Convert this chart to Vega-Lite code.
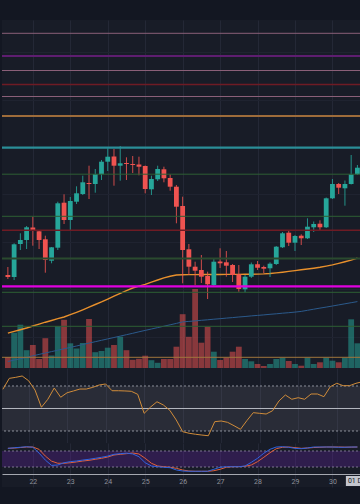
{
"$schema":"https://vega.github.io/schema/vega-lite/v6.json",
"background":"#131722",
"padding":{"top":20,"bottom":17,"left":0,"right":0},
"spacing":0,
"bounds":"flush",
"config":{"view":{"stroke":null,"fill":"#181c27"},"font":"Roboto"},
"datasets":{
"bars":[
{"t":"2023-11-21T08:00Z","o":35860,"h":36020,"l":35780,"c":35820,"v":550,"ema":34698,"ma":34130,"rsi":67.1,"k":90,"d":90},
{"t":"2023-11-21T12:00Z","o":35820,"h":36494,"l":35760,"c":36474,"v":1765,"ema":34732,"ma":34158,"rsi":76.8,"k":92,"d":91},
{"t":"2023-11-21T16:00Z","o":36480,"h":36694,"l":36360,"c":36560,"v":2165,"ema":34766,"ma":34186,"rsi":77.7,"k":94,"d":93},
{"t":"2023-11-21T20:00Z","o":36560,"h":36840,"l":36380,"c":36814,"v":890,"ema":34800,"ma":34214,"rsi":78.9,"k":96,"d":95},
{"t":"2023-11-22T00:00Z","o":36810,"h":37026,"l":36446,"c":36740,"v":1150,"ema":34840,"ma":34244,"rsi":74.7,"k":94,"d":95},
{"t":"2023-11-22T04:00Z","o":36734,"h":36740,"l":36380,"c":36560,"v":450,"ema":34878,"ma":34272,"rsi":66.4,"k":72,"d":86},
{"t":"2023-11-22T08:00Z","o":36574,"h":36646,"l":35906,"c":36160,"v":1490,"ema":34916,"ma":34300,"rsi":51.1,"k":46,"d":61},
{"t":"2023-11-22T12:00Z","o":36146,"h":36420,"l":36094,"c":36414,"v":625,"ema":34950,"ma":34328,"rsi":58.2,"k":26,"d":42},
{"t":"2023-11-22T16:00Z","o":36406,"h":37326,"l":36360,"c":37294,"v":2100,"ema":34986,"ma":34356,"rsi":68.2,"k":27.5,"d":34},
{"t":"2023-11-22T20:00Z","o":37306,"h":37474,"l":36880,"c":36960,"v":2410,"ema":35020,"ma":34384,"rsi":60,"k":36,"d":34},
{"t":"2023-11-23T00:00Z","o":36960,"h":37420,"l":36760,"c":37340,"v":1235,"ema":35066,"ma":34412,"rsi":64,"k":40,"d":36},
{"t":"2023-11-23T04:00Z","o":37326,"h":37634,"l":37280,"c":37494,"v":975,"ema":35114,"ma":34440,"rsi":65.6,"k":42.5,"d":39},
{"t":"2023-11-23T08:00Z","o":37480,"h":37846,"l":37460,"c":37714,"v":1250,"ema":35164,"ma":34470,"rsi":67.3,"k":46,"d":42.5},
{"t":"2023-11-23T12:00Z","o":37700,"h":38046,"l":37380,"c":37680,"v":2450,"ema":35216,"ma":34498,"rsi":67.3,"k":49,"d":45},
{"t":"2023-11-23T16:00Z","o":37680,"h":37980,"l":37506,"c":37880,"v":790,"ema":35270,"ma":34526,"rsi":68.8,"k":52.6,"d":49},
{"t":"2023-11-23T20:00Z","o":37874,"h":38160,"l":37760,"c":38126,"v":850,"ema":35322,"ma":34554,"rsi":70.9,"k":56.4,"d":52.6},
{"t":"2023-11-24T00:00Z","o":38126,"h":38394,"l":37940,"c":38226,"v":1015,"ema":35378,"ma":34582,"rsi":71.8,"k":61,"d":57.5},
{"t":"2023-11-24T04:00Z","o":38230,"h":38380,"l":37646,"c":38046,"v":1150,"ema":35436,"ma":34610,"rsi":65.8,"k":67.6,"d":65},
{"t":"2023-11-24T08:00Z","o":38046,"h":38440,"l":37746,"c":38094,"v":1565,"ema":35494,"ma":34638,"rsi":65.8,"k":70,"d":67.6},
{"t":"2023-11-24T12:00Z","o":38100,"h":38214,"l":37760,"c":38080,"v":890,"ema":35548,"ma":34666,"rsi":65.6,"k":72,"d":70},
{"t":"2023-11-24T16:00Z","o":38080,"h":38240,"l":37900,"c":38060,"v":410,"ema":35600,"ma":34694,"rsi":65.3,"k":69,"d":72.5},
{"t":"2023-11-24T20:00Z","o":38070,"h":38226,"l":37854,"c":38026,"v":460,"ema":35636,"ma":34724,"rsi":62.6,"k":58.6,"d":68.8},
{"t":"2023-11-25T00:00Z","o":38040,"h":38050,"l":37494,"c":37580,"v":615,"ema":35674,"ma":34752,"rsi":45.7,"k":36,"d":52.6},
{"t":"2023-11-25T04:00Z","o":37574,"h":37846,"l":37460,"c":37780,"v":390,"ema":35718,"ma":34780,"rsi":51.3,"k":23.8,"d":34},
{"t":"2023-11-25T08:00Z","o":37774,"h":38046,"l":37740,"c":37980,"v":260,"ema":35760,"ma":34808,"rsi":56,"k":21,"d":23.8},
{"t":"2023-11-25T12:00Z","o":37974,"h":38026,"l":37714,"c":37794,"v":450,"ema":35802,"ma":34836,"rsi":53.1,"k":19,"d":21},
{"t":"2023-11-25T16:00Z","o":37800,"h":37874,"l":37546,"c":37626,"v":450,"ema":35834,"ma":34864,"rsi":48.4,"k":17.4,"d":19},
{"t":"2023-11-25T20:00Z","o":37626,"h":37660,"l":36894,"c":37226,"v":1065,"ema":35860,"ma":34892,"rsi":39.8,"k":8.8,"d":15},
{"t":"2023-11-26T00:00Z","o":37240,"h":37426,"l":35694,"c":36360,"v":2690,"ema":35866,"ma":34922,"rsi":29.4,"k":5,"d":8.8},
{"t":"2023-11-26T04:00Z","o":36374,"h":36480,"l":35860,"c":36026,"v":1560,"ema":35868,"ma":34932,"rsi":28,"k":4,"d":5},
{"t":"2023-11-26T08:00Z","o":36026,"h":36126,"l":35660,"c":35946,"v":3950,"ema":35868,"ma":34942,"rsi":27.1,"k":4,"d":4},
{"t":"2023-11-26T12:00Z","o":35960,"h":36260,"l":35700,"c":35826,"v":1265,"ema":35870,"ma":34954,"rsi":26.4,"k":4,"d":4},
{"t":"2023-11-26T16:00Z","o":35840,"h":35926,"l":35380,"c":35674,"v":2060,"ema":35870,"ma":34964,"rsi":25.8,"k":4,"d":4},
{"t":"2023-11-26T20:00Z","o":35660,"h":36194,"l":35626,"c":36126,"v":815,"ema":35870,"ma":34976,"rsi":38.3,"k":11.4,"d":6},
{"t":"2023-11-27T00:00Z","o":36130,"h":36394,"l":36000,"c":36094,"v":400,"ema":35870,"ma":34986,"rsi":38.9,"k":19,"d":11.4},
{"t":"2023-11-27T04:00Z","o":36114,"h":36340,"l":35826,"c":36046,"v":515,"ema":35872,"ma":34998,"rsi":37.7,"k":21,"d":19},
{"t":"2023-11-27T08:00Z","o":36060,"h":36080,"l":35720,"c":35860,"v":815,"ema":35872,"ma":35008,"rsi":34.7,"k":21,"d":21},
{"t":"2023-11-27T12:00Z","o":35874,"h":36060,"l":35526,"c":35580,"v":1065,"ema":35872,"ma":35020,"rsi":31.5,"k":21,"d":21},
{"t":"2023-11-27T16:00Z","o":35574,"h":35860,"l":35514,"c":35826,"v":450,"ema":35874,"ma":35030,"rsi":39.2,"k":23.8,"d":22.6},
{"t":"2023-11-27T20:00Z","o":35826,"h":36110,"l":35800,"c":36074,"v":335,"ema":35876,"ma":35042,"rsi":46.3,"k":37.6,"d":27.5},
{"t":"2023-11-28T00:00Z","o":36074,"h":36140,"l":35960,"c":36006,"v":200,"ema":35878,"ma":35052,"rsi":45.7,"k":52.6,"d":40},
{"t":"2023-11-28T04:00Z","o":36020,"h":36046,"l":35894,"c":35986,"v":100,"ema":35882,"ma":35062,"rsi":45.1,"k":71.4,"d":56.4},
{"t":"2023-11-28T08:00Z","o":35994,"h":36114,"l":35820,"c":36086,"v":200,"ema":35890,"ma":35074,"rsi":48,"k":86.4,"d":73.6},
{"t":"2023-11-28T12:00Z","o":36080,"h":36440,"l":36060,"c":36426,"v":450,"ema":35902,"ma":35084,"rsi":56.7,"k":95,"d":88.6},
{"t":"2023-11-28T16:00Z","o":36414,"h":36720,"l":36400,"c":36694,"v":515,"ema":35916,"ma":35096,"rsi":62,"k":96,"d":94},
{"t":"2023-11-28T20:00Z","o":36706,"h":36740,"l":36440,"c":36506,"v":350,"ema":35932,"ma":35106,"rsi":58.2,"k":94,"d":95},
{"t":"2023-11-29T00:00Z","o":36506,"h":36660,"l":36340,"c":36640,"v":200,"ema":35948,"ma":35118,"rsi":59.6,"k":90,"d":92.6},
{"t":"2023-11-29T04:00Z","o":36646,"h":36674,"l":36460,"c":36594,"v":115,"ema":35964,"ma":35132,"rsi":58.2,"k":88.6,"d":90},
{"t":"2023-11-29T08:00Z","o":36594,"h":36994,"l":36580,"c":36826,"v":515,"ema":35980,"ma":35154,"rsi":62.9,"k":91.3,"d":91.3},
{"t":"2023-11-29T12:00Z","o":36814,"h":36930,"l":36720,"c":36880,"v":200,"ema":35996,"ma":35176,"rsi":62.9,"k":95,"d":93},
{"t":"2023-11-29T16:00Z","o":36886,"h":36954,"l":36740,"c":36814,"v":285,"ema":36014,"ma":35198,"rsi":60.5,"k":95,"d":94},
{"t":"2023-11-29T20:00Z","o":36814,"h":37410,"l":36800,"c":37394,"v":515,"ema":36038,"ma":35218,"rsi":69.4,"k":95,"d":95},
{"t":"2023-11-30T00:00Z","o":37394,"h":37780,"l":37380,"c":37680,"v":365,"ema":36062,"ma":35240,"rsi":72.4,"k":95,"d":95},
{"t":"2023-11-30T04:00Z","o":37680,"h":37700,"l":37480,"c":37606,"v":285,"ema":36092,"ma":35262,"rsi":70.3,"k":94,"d":95},
{"t":"2023-11-30T08:00Z","o":37594,"h":37750,"l":37246,"c":37680,"v":515,"ema":36124,"ma":35284,"rsi":70.3,"k":94,"d":94.5},
{"t":"2023-11-30T12:00Z","o":37680,"h":38260,"l":37670,"c":37874,"v":2435,"ema":36158,"ma":35306,"rsi":72.4,"k":95,"d":94.5},
{"t":"2023-11-30T16:00Z","o":37874,"h":38060,"l":37860,"c":38006,"v":1235,"ema":36196,"ma":35328,"rsi":73.8,"k":95,"d":95}
],
"levels":[
{"p":40694,"kind":"mauve"},{"p":40240,"kind":"purple"},{"p":39950,"kind":"mauve"},{"p":39670,"kind":"crimson"},{"p":39430,"kind":"mauve"},{"p":39040,"kind":"bronze"},{"p":38406,"kind":"teal"},{"p":37876,"kind":"green"},{"p":37034,"kind":"green"},{"p":36754,"kind":"crimson"},{"p":36190,"kind":"olive"},{"p":35634,"kind":"magenta"},{"p":35514,"kind":"green"},{"p":34834,"kind":"green"},{"p":34214,"kind":"amber"}
],
"stamp":[{"t":"2023-12-01T00:00Z","label":"01 Dec '23"}]
},
"vconcat":[
{
"width":360,"height":348,
"resolve":{"scale":{"y":"independent"}},
"layer":[
{"data":{"name":"bars"},"mark":{"type":"bar","width":5.8,"opacity":0.52,"clip":true},
"encoding":{
"x":{"field":"t","type":"temporal","scale":{"type":"utc","domain":[{"year":2023,"month":11,"date":21,"hours":7,"minutes":26,"seconds":22,"utc":true},{"year":2023,"month":11,"date":30,"hours":15,"minutes":44,"seconds":22,"utc":true}]},
"axis":{"values":[{"year":2023,"month":11,"date":22,"utc":true},{"year":2023,"month":11,"date":23,"utc":true},{"year":2023,"month":11,"date":24,"utc":true},{"year":2023,"month":11,"date":25,"utc":true},{"year":2023,"month":11,"date":26,"utc":true},{"year":2023,"month":11,"date":27,"utc":true},{"year":2023,"month":11,"date":28,"utc":true},{"year":2023,"month":11,"date":29,"utc":true},{"year":2023,"month":11,"date":30,"utc":true}],"grid":true,"gridColor":"#242836","labels":false,"ticks":false,"domain":true,"domainColor":"#a5a8b0","title":null}},
"y":{"field":"v","type":"quantitative","scale":{"domain":[0,17400],"nice":false,"zero":true},"axis":null},
"color":{"condition":{"test":"datum.c >= datum.o","value":"#26a69a"},"value":"#ef5350"}}},
{"data":{"name":"bars"},"mark":{"type":"line","color":"#2b5a8c","strokeWidth":1,"clip":true},
"encoding":{
"x":{"field":"t","type":"temporal","scale":{"type":"utc","domain":[{"year":2023,"month":11,"date":21,"hours":7,"minutes":26,"seconds":22,"utc":true},{"year":2023,"month":11,"date":30,"hours":15,"minutes":44,"seconds":22,"utc":true}]}},
"y":{"field":"ma","type":"quantitative","scale":{"domain":[34000,40960],"nice":false,"zero":false},"axis":{"values":[34630,35578,36526,37474,38422,39370,40318],"grid":true,"gridColor":"#1f2330","labels":false,"ticks":false,"domain":false,"title":null}}}},
{"data":{"name":"bars"},"mark":{"type":"line","color":"#e8902c","strokeWidth":1.4,"clip":true},
"encoding":{
"x":{"field":"t","type":"temporal","scale":{"type":"utc","domain":[{"year":2023,"month":11,"date":21,"hours":7,"minutes":26,"seconds":22,"utc":true},{"year":2023,"month":11,"date":30,"hours":15,"minutes":44,"seconds":22,"utc":true}]}},
"y":{"field":"ema","type":"quantitative","scale":{"domain":[34000,40960],"nice":false,"zero":false},"axis":null}}},
{"data":{"name":"bars"},"mark":{"type":"rule","strokeWidth":1,"opacity":0.85,"clip":true},
"encoding":{
"x":{"field":"t","type":"temporal","scale":{"type":"utc","domain":[{"year":2023,"month":11,"date":21,"hours":7,"minutes":26,"seconds":22,"utc":true},{"year":2023,"month":11,"date":30,"hours":15,"minutes":44,"seconds":22,"utc":true}]}},
"y":{"field":"l","type":"quantitative","scale":{"domain":[34000,40960],"nice":false,"zero":false},"axis":null},
"y2":{"field":"h"},
"color":{"condition":{"test":"datum.c >= datum.o","value":"#26a69a"},"value":"#ef5350"}}},
{"data":{"name":"bars"},"mark":{"type":"bar","width":4.8,"clip":true},
"encoding":{
"x":{"field":"t","type":"temporal","scale":{"type":"utc","domain":[{"year":2023,"month":11,"date":21,"hours":7,"minutes":26,"seconds":22,"utc":true},{"year":2023,"month":11,"date":30,"hours":15,"minutes":44,"seconds":22,"utc":true}]}},
"y":{"field":"o","type":"quantitative","scale":{"domain":[34000,40960],"nice":false,"zero":false},"axis":null},
"y2":{"field":"c"},
"color":{"condition":{"test":"datum.c >= datum.o","value":"#26a69a"},"value":"#ef5350"}}},
{"data":{"name":"levels"},"transform":[{"filter":{"field":"kind","oneOf":["mauve","green","amber"]}}],"mark":{"type":"rule","strokeWidth":1},
"encoding":{
"y":{"field":"p","type":"quantitative","scale":{"domain":[34000,40960],"nice":false,"zero":false},"axis":null},
"color":{"field":"kind","type":"nominal","scale":{"domain":["mauve","purple","crimson","bronze","teal","green","olive","magenta","amber"],"range":["#8a5f78","#5e1d70","#6e1b24","#9e6c3a","#2a8e98","#2d5f34","#2a4a2f","#e000e0","#a0763c"]},"legend":null}}},
{"data":{"name":"levels"},"transform":[{"filter":{"field":"kind","oneOf":["crimson"]}}],"mark":{"type":"rule","strokeWidth":1.6},
"encoding":{
"y":{"field":"p","type":"quantitative","scale":{"domain":[34000,40960],"nice":false,"zero":false},"axis":null},
"color":{"field":"kind","type":"nominal","scale":{"domain":["mauve","purple","crimson","bronze","teal","green","olive","magenta","amber"],"range":["#8a5f78","#5e1d70","#6e1b24","#9e6c3a","#2a8e98","#2d5f34","#2a4a2f","#e000e0","#a0763c"]},"legend":null}}},
{"data":{"name":"levels"},"transform":[{"filter":{"field":"kind","oneOf":["purple","bronze","teal","olive","magenta"]}}],"mark":{"type":"rule","strokeWidth":2.2},
"encoding":{
"y":{"field":"p","type":"quantitative","scale":{"domain":[34000,40960],"nice":false,"zero":false},"axis":null},
"color":{"field":"kind","type":"nominal","scale":{"domain":["mauve","purple","crimson","bronze","teal","green","olive","magenta","amber"],"range":["#8a5f78","#5e1d70","#6e1b24","#9e6c3a","#2a8e98","#2d5f34","#2a4a2f","#e000e0","#a0763c"]},"legend":null}}}
]
},
{
"width":360,"height":75,
"layer":[
{"data":{"values":[{}]},"mark":{"type":"rect","color":"#787b86","opacity":0.18},
"encoding":{"y":{"datum":70,"type":"quantitative","scale":{"domain":[19.333,86],"nice":false,"zero":false},"axis":null},"y2":{"datum":30}}},
{"data":{"values":[{"lv":70},{"lv":30}]},"mark":{"type":"rule","color":"#8d909a","strokeDash":[2,2],"strokeWidth":1},
"encoding":{"y":{"field":"lv","type":"quantitative","scale":{"domain":[19.333,86],"nice":false,"zero":false},"axis":null}}},
{"data":{"values":[{"lv":50}]},"mark":{"type":"rule","color":"#b6b9c1","strokeWidth":1},
"encoding":{"y":{"field":"lv","type":"quantitative","scale":{"domain":[19.333,86],"nice":false,"zero":false},"axis":null}}},
{"data":{"name":"bars"},"mark":{"type":"line","color":"#d08c3a","strokeWidth":1,"clip":true},
"encoding":{
"x":{"field":"t","type":"temporal","scale":{"type":"utc","domain":[{"year":2023,"month":11,"date":21,"hours":7,"minutes":26,"seconds":22,"utc":true},{"year":2023,"month":11,"date":30,"hours":15,"minutes":44,"seconds":22,"utc":true}]},
"axis":{"values":[{"year":2023,"month":11,"date":22,"utc":true},{"year":2023,"month":11,"date":23,"utc":true},{"year":2023,"month":11,"date":24,"utc":true},{"year":2023,"month":11,"date":25,"utc":true},{"year":2023,"month":11,"date":26,"utc":true},{"year":2023,"month":11,"date":27,"utc":true},{"year":2023,"month":11,"date":28,"utc":true},{"year":2023,"month":11,"date":29,"utc":true},{"year":2023,"month":11,"date":30,"utc":true}],"grid":true,"gridColor":"#242836","labels":false,"ticks":false,"domain":true,"domainColor":"#a5a8b0","title":null}},
"y":{"field":"rsi","type":"quantitative","scale":{"domain":[19.333,86],"nice":false,"zero":false},"axis":null}}}
]
},
{
"width":360,"height":44,
"layer":[
{"data":{"values":[{}]},"mark":{"type":"rect","color":"#6a1fb0","opacity":0.28},
"encoding":{"y":{"datum":80,"type":"quantitative","scale":{"domain":[-55,110],"nice":false,"zero":false},"axis":null},"y2":{"datum":20}}},
{"data":{"values":[{"lv":80},{"lv":20}]},"mark":{"type":"rule","color":"#7d7490","strokeDash":[2,2],"strokeWidth":1},
"encoding":{"y":{"field":"lv","type":"quantitative","scale":{"domain":[-55,110],"nice":false,"zero":false},"axis":null}}},
{"data":{"name":"bars"},"mark":{"type":"line","color":"#e2603a","strokeWidth":1,"clip":true},
"encoding":{
"x":{"field":"t","type":"temporal","scale":{"type":"utc","domain":[{"year":2023,"month":11,"date":21,"hours":7,"minutes":26,"seconds":22,"utc":true},{"year":2023,"month":11,"date":30,"hours":15,"minutes":44,"seconds":22,"utc":true}]},
"axis":{"values":[{"year":2023,"month":11,"date":22,"utc":true},{"year":2023,"month":11,"date":23,"utc":true},{"year":2023,"month":11,"date":24,"utc":true},{"year":2023,"month":11,"date":25,"utc":true},{"year":2023,"month":11,"date":26,"utc":true},{"year":2023,"month":11,"date":27,"utc":true},{"year":2023,"month":11,"date":28,"utc":true},{"year":2023,"month":11,"date":29,"utc":true},{"year":2023,"month":11,"date":30,"utc":true}],"format":"%d","offset":-13,"grid":true,"gridColor":"#242836","labels":true,"labelColor":"#8f929b","labelFontSize":7,"labelFont":"Roboto","labelPadding":7,"labelBaseline":"middle","labelFlush":false,"labelOverlap":false,"ticks":false,"tickSize":0,"domain":true,"domainColor":"#a5a8b0","title":null}},
"y":{"field":"d","type":"quantitative","scale":{"domain":[-55,110],"nice":false,"zero":false},"axis":null}}},
{"data":{"name":"bars"},"mark":{"type":"line","color":"#2f63e0","strokeWidth":1,"clip":true},
"encoding":{
"x":{"field":"t","type":"temporal","scale":{"type":"utc","domain":[{"year":2023,"month":11,"date":21,"hours":7,"minutes":26,"seconds":22,"utc":true},{"year":2023,"month":11,"date":30,"hours":15,"minutes":44,"seconds":22,"utc":true}]}},
"y":{"field":"k","type":"quantitative","scale":{"domain":[-55,110],"nice":false,"zero":false},"axis":null}}},
{"data":{"name":"stamp"},"mark":{"type":"bar","width":48,"color":"#c3c6ce","clip":true},
"encoding":{
"x":{"field":"t","type":"temporal","scale":{"type":"utc","domain":[{"year":2023,"month":11,"date":21,"hours":7,"minutes":26,"seconds":22,"utc":true},{"year":2023,"month":11,"date":30,"hours":15,"minutes":44,"seconds":22,"utc":true}]}},
"y":{"datum":-14,"type":"quantitative","scale":{"domain":[-55,110],"nice":false,"zero":false},"axis":null},"y2":{"datum":-51}}},
{"data":{"name":"stamp"},"mark":{"type":"text","align":"left","dx":-22,"baseline":"middle","fontSize":7,"font":"Roboto","color":"#131722","clip":true},
"encoding":{
"x":{"field":"t","type":"temporal","scale":{"type":"utc","domain":[{"year":2023,"month":11,"date":21,"hours":7,"minutes":26,"seconds":22,"utc":true},{"year":2023,"month":11,"date":30,"hours":15,"minutes":44,"seconds":22,"utc":true}]}},
"y":{"datum":-32.5,"type":"quantitative","scale":{"domain":[-55,110],"nice":false,"zero":false},"axis":null},
"text":{"field":"label"}}}
]
}
]
}
